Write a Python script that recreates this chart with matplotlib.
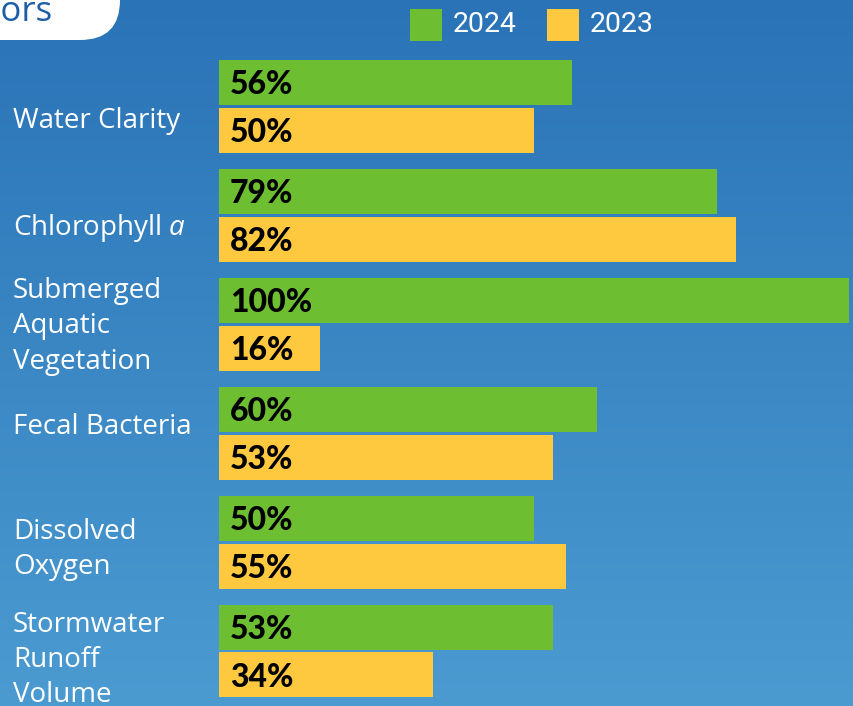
import numpy as np
import matplotlib.pyplot as plt
from matplotlib.patches import Rectangle, FancyBboxPatch

# Indicator data (percent)
categories = ["Water Clarity", "Chlorophyll $\\mathit{a}$",
              "Submerged\nAquatic\nVegetation", "Fecal Bacteria",
              "Dissolved\nOxygen", "Stormwater\nRunoff\nVolume"]
values_2024 = [56, 79, 100, 60, 50, 53]
values_2023 = [50, 82, 16, 53, 55, 34]
years = ["2024", "2023"]

GREEN = "#6dbf31"
YELLOW = "#fec93f"

plt.rcParams["mathtext.fontset"] = "custom"
plt.rcParams["mathtext.it"] = "Open Sans:italic"
plt.rcParams["mathtext.rm"] = "Open Sans"

W, H = 854, 706
fig = plt.figure(figsize=(W / 100, H / 100), dpi=100)

# gradient background
bg = fig.add_axes([0, 0, 1, 1], zorder=0)
grad = np.linspace(0, 1, 256).reshape(-1, 1)
top = np.array([0x2a, 0x73, 0xb7]) / 255
bot = np.array([0x4b, 0x9b, 0xd1]) / 255
img = top + (bot - top) * grad[:, :, None]
bg.imshow(img, aspect="auto", extent=[0, 1, 1, 0])
bg.set_xlim(0, 1)
bg.set_ylim(1, 0)
bg.axis("off")

# title tab (cut off at the top-left), display coords from bottom-left
tab = FancyBboxPatch((-200, H - 40), 320, 300, boxstyle="round,pad=0,rounding_size=40",
                     transform=None, facecolor="white", edgecolor="none", zorder=1)
bg.add_patch(tab)
fig.text(53 / W, 1 - 21 / H, "Indicators", ha="right", va="baseline",
         fontsize=25, color="#1d5ea8", family="Open Sans")

# bar axes
ax = fig.add_axes([219 / W, 0, 630 / W, 1], zorder=2)
ax.patch.set_alpha(0)
y = np.arange(len(categories))
off, h = 0.22, 0.413
ax.barh(y - off, values_2024, height=h, color=GREEN, edgecolor="none")
ax.barh(y + off, values_2023, height=h, color=YELLOW, edgecolor="none")
ax.set_xlim(0, 100)
ax.set_ylim(5.505, -0.978)
ax.axis("off")

for yy, v in zip(y - off, values_2024):
    ax.text(1.7, yy + 0.02, f"{v}%", ha="left", va="center", fontsize=23,
            fontweight="black", family="Lato", color="black")
for yy, v in zip(y + off, values_2023):
    ax.text(1.7, yy + 0.02, f"{v}%", ha="left", va="center", fontsize=23,
            fontweight="black", family="Lato", color="black")

# category labels
nudge = [0.13, 0.12, 0.02, -0.06, 0.07, 0.08]
for yy, lab, n in zip(y, categories, nudge):
    ax.text(-219 / 630 * 100 + 13 / 630 * 100, yy + n, lab, ha="left", va="center",
            fontsize=20, color="white", family="Open Sans", linespacing=1.34,
            clip_on=False)

# legend
for x0, col, lab in [(410, GREEN, years[0]), (547, YELLOW, years[1])]:
    fig.patches.append(Rectangle((x0 / W, 1 - 41 / H), 32 / W, 32 / H,
                                 transform=fig.transFigure, facecolor=col,
                                 edgecolor="none", zorder=3))
    fig.text((x0 + 43) / W, 1 - 25 / H, lab, ha="left", va="center",
             fontsize=20.5, color="white", family="Roboto")

fig.savefig("out.png", dpi=100)
